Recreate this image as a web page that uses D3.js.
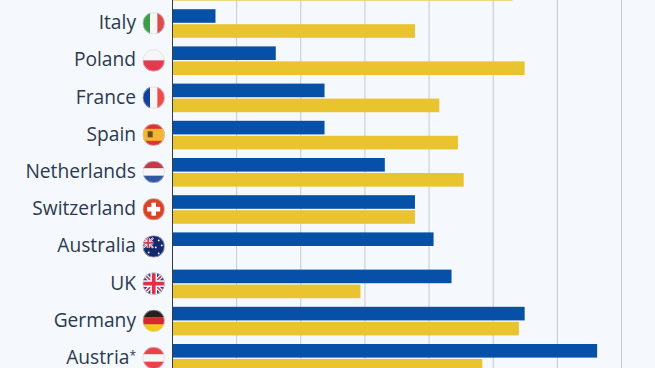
<!DOCTYPE html>
<html>
<head>
<meta charset="utf-8">
<script src="https://cdn.jsdelivr.net/npm/d3@7"></script>
<style>
  html, body { margin: 0; padding: 0; background: #f5f8fc; overflow: hidden; }
  svg { display: block; }
</style>
</head>
<body>
<script>
// Values. The top row is cut off by the crop, its label is not visible.
const categories = ["", "Italy", "Poland", "France", "Spain", "Netherlands", "Switzerland", "Australia", "UK", "Germany", "Austria*"];
const blueValues = [null, 6.7, 16.1, 23.7, 23.7, 33.1, 37.8, 40.7, 43.5, 54.9, 66.2];
const yellowValues = [53, 37.8, 54.9, 41.6, 44.5, 45.4, 37.8, null, 29.3, 54, 48.3];
const gridTicks = [0, 10, 20, 30, 40, 50, 60, 70];

const width = 655, height = 368;
const rowStep = 37.2;
const barHeight = 13.6;

const svg = d3.select("body").append("svg")
  .attr("width", width)
  .attr("height", height);

const x = d3.scaleLinear().domain([0, 70]).range([172.5, 621.5]);
const y = d3.scaleBand().domain(categories)
  .range([-28, -28 + rowStep * categories.length])
  .paddingInner(0).paddingOuter(0);

// Gridlines
svg.append("g").selectAll("line")
  .data(gridTicks.slice(1))
  .join("line")
  .attr("x1", d => x(d)).attr("x2", d => x(d))
  .attr("y1", 0).attr("y2", height)
  .attr("stroke", "#c6cacf")
  .attr("stroke-width", 1);

function drawBars(values, color, offset) {
  svg.append("g").selectAll("rect")
    .data(categories.map((c, i) => ({ c, v: values[i] })).filter(d => d.v !== null))
    .join("rect")
    .attr("x", x(0))
    .attr("y", d => y(d.c) + offset)
    .attr("width", d => x(d.v) - x(0))
    .attr("height", barHeight)
    .attr("fill", color);
}
drawBars(blueValues, "#0650a8", 0);
drawBars(yellowValues, "#e9c42e", 15);

// Axis line
svg.append("line")
  .attr("x1", x(0)).attr("x2", x(0))
  .attr("y1", 0).attr("y2", height)
  .attr("stroke", "#333d49")
  .attr("stroke-width", 1);

// Labels, the asterisk of Austria is set small and raised
const labels = svg.append("g").selectAll("text")
  .data(categories.slice(1))
  .join("text")
  .attr("x", 136)
  .attr("y", d => y(d) + 20)
  .attr("text-anchor", "end")
  .attr("font-family", "'Open Sans', sans-serif")
  .attr("font-size", 19.2)
  .attr("fill", "#2b3a4e");
labels.append("tspan").text(d => d.replace("*", ""));
labels.filter(d => d.endsWith("*")).append("tspan")
  .attr("font-size", 12)
  .attr("dy", -4)
  .text("*");

// Flags: each one is drawn in a 22x22 box, centred on 0,0 and clipped to a circle
const defs = svg.append("defs");
defs.append("clipPath").attr("id", "flag-clip")
  .append("circle").attr("r", 11);

function rect(g, x0, y0, w, h, fill) {
  g.append("rect").attr("x", x0).attr("y", y0).attr("width", w).attr("height", h).attr("fill", fill);
}
function vStripes(g, colors) {
  colors.forEach((c, i) => rect(g, -11 + i * 22 / 3, -11, 22 / 3 + 0.2, 22, c));
}
function hStripes(g, colors) {
  colors.forEach((c, i) => rect(g, -11, -11 + i * 22 / colors.length, 22, 22 / colors.length + 0.2, c));
}
function unionJack(g, s) {
  rect(g, -s, -s, 2 * s, 2 * s, "#27408b");
  g.append("path").attr("d", `M${-s},${-s}L${s},${s}M${-s},${s}L${s},${-s}`)
    .attr("stroke", "#fff").attr("stroke-width", s * 0.36);
  g.append("path").attr("d", `M${-s},${-s}L${s},${s}M${-s},${s}L${s},${-s}`)
    .attr("stroke", "#d9324a").attr("stroke-width", s * 0.14);
  rect(g, -s, -s * 0.3, 2 * s, s * 0.6, "#fff");
  rect(g, -s * 0.3, -s, s * 0.6, 2 * s, "#fff");
  rect(g, -s, -s * 0.17, 2 * s, s * 0.34, "#d9324a");
  rect(g, -s * 0.17, -s, s * 0.34, 2 * s, "#d9324a");
}

const flagDrawers = {
  "Italy": g => vStripes(g, ["#3d9b4a", "#f6f6f6", "#dc4a50"]),
  "Poland": g => hStripes(g, ["#f6f6f6", "#e23a50"]),
  "France": g => vStripes(g, ["#12409c", "#f6f6f6", "#ee4a48"]),
  "Spain": g => {
    rect(g, -11, -11, 22, 22, "#d9362c");
    rect(g, -11, -6, 22, 12, "#f2b632");
    rect(g, -6, -3.5, 5, 6, "#6e4a1e");
  },
  "Netherlands": g => hStripes(g, ["#c4394a", "#f6f6f6", "#34589f"]),
  "Switzerland": g => {
    rect(g, -11, -11, 22, 22, "#dc4228");
    rect(g, -6.5, -2.3, 13, 4.6, "#fff");
    rect(g, -2.3, -6.5, 4.6, 13, "#fff");
  },
  "Australia": g => {
    rect(g, -11, -11, 22, 22, "#14286e");
    const jack = g.append("g").attr("transform", "translate(-5.5,-3.5)");
    unionJack(jack, 5);
    g.selectAll("circle.star")
      .data([[5, -6], [8, -1], [2, 1], [5, 7], [-5, 6]])
      .join("circle")
      .attr("class", "star")
      .attr("cx", d => d[0]).attr("cy", d => d[1])
      .attr("r", 0.9).attr("fill", "#fff");
  },
  "UK": g => unionJack(g, 11),
  "Germany": g => hStripes(g, ["#23201f", "#d8282e", "#f5c518"]),
  "Austria*": g => hStripes(g, ["#e8424a", "#f6f6f6", "#e8424a"])
};

categories.slice(1).forEach(c => {
  const outer = svg.append("g")
    .attr("transform", `translate(153.7,${y(c) + 14})`);
  const g = outer.append("g").attr("clip-path", "url(#flag-clip)");
  flagDrawers[c](g);
  outer.append("circle").attr("r", 10.7)
    .attr("fill", "none")
    .attr("stroke", "#d4d7dc")
    .attr("stroke-width", 0.6);
});
</script>
</body>
</html>
